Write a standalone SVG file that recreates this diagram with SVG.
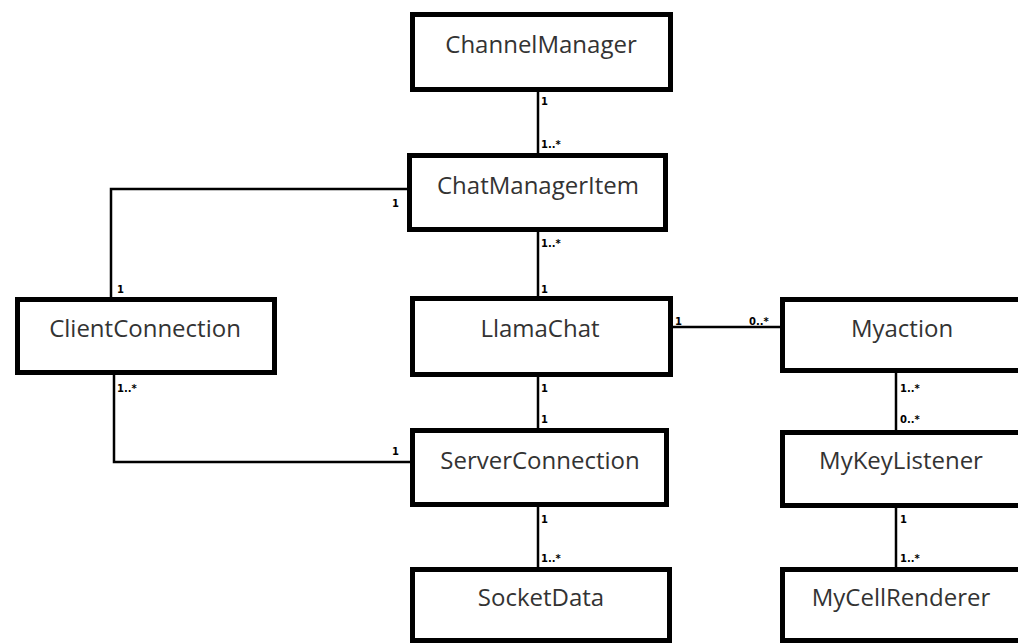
<svg xmlns="http://www.w3.org/2000/svg" width="1018" height="643" viewBox="0 0 1018 643">
<style>
.box{fill:#fff;stroke:#000;stroke-width:5}
.name{font-family:"Open Sans","Noto Sans","Liberation Sans",sans-serif;font-size:24px;fill:#333;text-anchor:middle}
.con{fill:none;stroke:#000;stroke-width:2.5}
.m{font-family:"DejaVu Sans","Liberation Sans",sans-serif;font-size:10px;font-weight:bold;fill:#000}
</style>
<rect width="1018" height="643" fill="#fff"/>
<g id="connectors">
<line class="con" x1="538" y1="92" x2="538" y2="153"/>
<line class="con" x1="538" y1="232" x2="538" y2="296"/>
<polyline class="con" points="407,189 111,189 111,297"/>
<polyline class="con" points="114,375 114,462 410,462"/>
<line class="con" x1="538" y1="377" x2="538" y2="428"/>
<line class="con" x1="538" y1="507" x2="538" y2="567"/>
<line class="con" x1="673" y1="327" x2="780" y2="327"/>
<line class="con" x1="896" y1="373" x2="896" y2="430"/>
<line class="con" x1="896" y1="508" x2="896" y2="567"/>
<g id="multiplicities">
<text class="m" x="541" y="105">1</text>
<text class="m" x="541" y="148">1..*</text>
<text class="m" x="392" y="207">1</text>
<text class="m" x="541" y="247">1..*</text>
<text class="m" x="541" y="293">1</text>
<text class="m" x="117" y="293">1</text>
<text class="m" x="117" y="392">1..*</text>
<text class="m" x="392" y="455">1</text>
<text class="m" x="541" y="392">1</text>
<text class="m" x="541" y="423">1</text>
<text class="m" x="541" y="523">1</text>
<text class="m" x="541" y="562">1..*</text>
<text class="m" x="675" y="325">1</text>
<text class="m" x="749" y="325">0..*</text>
<text class="m" x="900" y="392">1..*</text>
<text class="m" x="900" y="423">0..*</text>
<text class="m" x="900" y="523">1</text>
<text class="m" x="900" y="562">1..*</text>
</g>
</g>
<g id="ChannelManager"><rect class="box" x="412.5" y="14.5" width="258" height="75"/><text class="name" x="541" y="53">ChannelManager</text></g>
<g id="ChatManagerItem"><rect class="box" x="409.5" y="155.5" width="256" height="74"/><text class="name" x="538" y="194">ChatManagerItem</text></g>
<g id="ClientConnection"><rect class="box" x="17.5" y="299.5" width="257" height="73"/><text class="name" x="145" y="337">ClientConnection</text></g>
<g id="LlamaChat"><rect class="box" x="412.5" y="298.5" width="258" height="76"/><text class="name" x="540" y="337">LlamaChat</text></g>
<g id="ServerConnection"><rect class="box" x="412.5" y="430.5" width="254" height="74"/><text class="name" x="540" y="469">ServerConnection</text></g>
<g id="SocketData"><rect class="box" x="412.5" y="569.5" width="257" height="71"/><text class="name" x="541" y="606">SocketData</text></g>
<g id="Myaction"><rect class="box" x="782.5" y="299.5" width="250" height="71"/><text class="name" x="902" y="337">Myaction</text></g>
<g id="MyKeyListener"><rect class="box" x="782.5" y="432.5" width="250" height="73"/><text class="name" x="901" y="469">MyKeyListener</text></g>
<g id="MyCellRenderer"><rect class="box" x="782.5" y="569.5" width="250" height="71"/><text class="name" x="901" y="606">MyCellRenderer</text></g>
</svg>
